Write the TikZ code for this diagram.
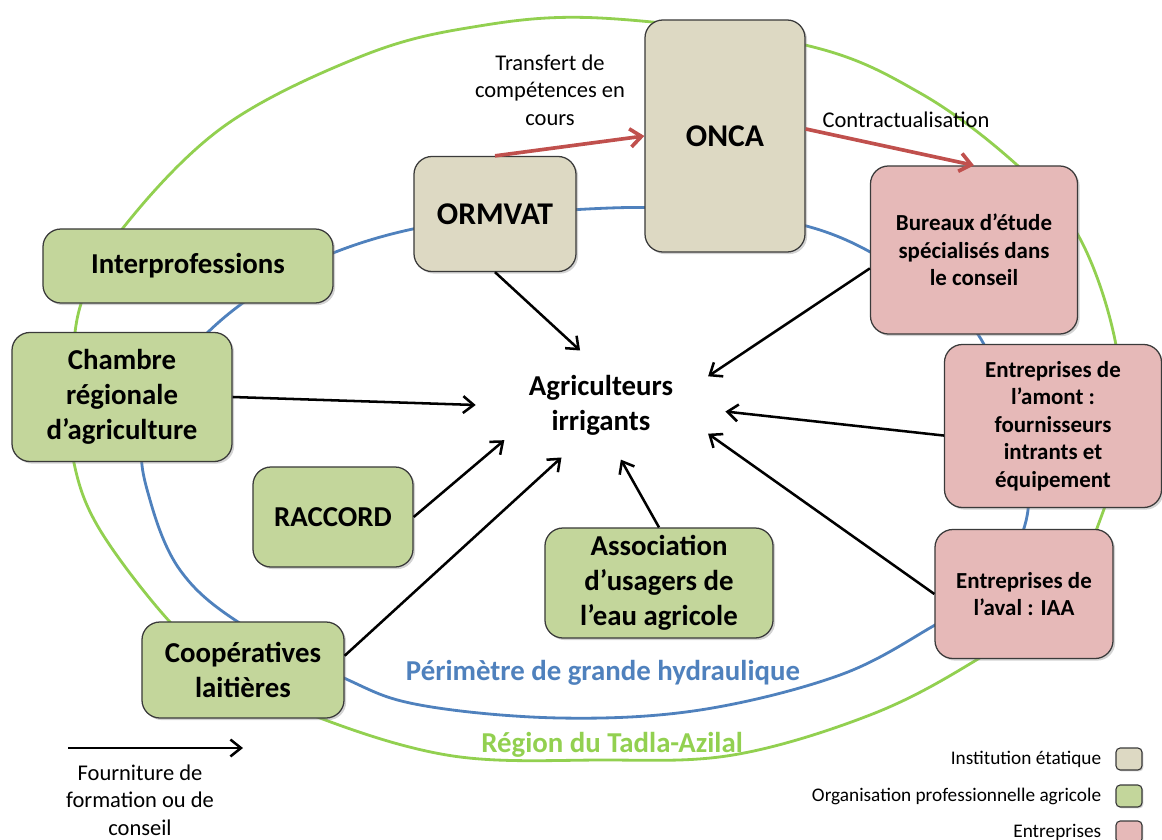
\documentclass[tikz,border=0pt]{standalone}
\usepackage{fontspec}
\setmainfont{Carlito}
\usepackage{tikz}
\usetikzlibrary{arrows.meta,positioning,shadows,shapes.geometric}
\definecolor{StateTan}{HTML}{DDD9C3}
\definecolor{ProGreen}{HTML}{C3D69B}
\definecolor{FirmPink}{HTML}{E6B9B8}
\definecolor{RingGreen}{HTML}{92D050}
\definecolor{RingBlue}{HTML}{4F81BD}
\definecolor{LinkRed}{HTML}{C0504D}
\definecolor{BoxEdge}{HTML}{3A3A3A}

\begin{document}
\begin{tikzpicture}[x=0.025cm,y=-0.025cm,
    actorbox/.style={draw=BoxEdge,line width=0.9pt,rounded corners=0.45cm,align=center,
      inner sep=2pt,font=\bfseries\fontsize{20.5}{25}\selectfont,
      drop shadow={shadow xshift=1.5pt,shadow yshift=-1.5pt,opacity=0.35}},
    statebox/.style={actorbox,fill=StateTan,font=\bfseries\fontsize{22.5}{27}\selectfont},
    probox/.style={actorbox,fill=ProGreen},
    firmbox/.style={actorbox,fill=FirmPink,font=\bfseries\fontsize{16.3}{19.6}\selectfont},
    hub/.style={ellipse,inner sep=0pt,minimum width=6.25cm,minimum height=2.75cm,align=center,
      font=\bfseries\fontsize{20.5}{25}\selectfont},
    feed/.style={-{Straight Barb[length=7.5pt,width=12pt]},line width=1.8pt,black},
    handover/.style={-{Straight Barb[length=8pt,width=13pt]},line width=2.6pt,LinkRed},
    ring/.style={line width=2pt},
    ringlabel/.style={font=\bfseries\fontsize{20.5}{25}\selectfont},
    labeltext/.style={align=center,font=\fontsize{16}{19.4}\selectfont},
    keybox/.style={draw=BoxEdge,line width=0.8pt,rounded corners=3pt,minimum width=0.65cm,
      minimum height=0.55cm,drop shadow={shadow xshift=1pt,shadow yshift=-1pt,opacity=0.35}},
    keytext/.style={inner sep=0pt,font=\fontsize{13.7}{16}\selectfont}]
  \useasboundingbox (0,0) rectangle (1162,840);

  % perimeter and region
  \draw[ring,RingGreen] plot[smooth cycle,tension=0.6] coordinates {
    (600,18) (805,45) (920,93) (1017,165) (1078,235) (1115,340) (1120,440)
    (1100,520) (1060,600) (973,662) (870,715) (733,755) (600,760) (453,756)
    (320,718) (230,672) (170,622) (100,530) (74,463) (72,400) (80,307)
    (123,228) (223,127) (357,58) (467,28)};
  \draw[ring,RingBlue] plot[smooth cycle,tension=0.6] coordinates {
    (610,208) (720,212) (820,230) (900,270) (975,330) (1010,420) (1028,510)
    (990,590) (935,625) (840,675) (700,710) (560,718) (420,705) (344,678)
    (238,622) (180,570) (150,500) (143,440) (175,370) (240,305) (333,253) (450,222)};

  % actors
  \node[statebox,minimum width=4cm,minimum height=5.8cm] (onca) at (725,136) {ONCA};
  \node[statebox,minimum width=4.05cm,minimum height=2.875cm] (ormvat) at (495,214) {ORMVAT};
  \node[firmbox,minimum width=5.175cm,minimum height=4.2cm] (bureaux) at (974,250)
    {Bureaux d’étude\\spécialisés dans\\le conseil};
  \node[firmbox,minimum width=5.425cm,minimum height=4.075cm] (amont) at (1053,426)
    {Entreprises de\\l’amont :\\fournisseurs\\intrants et\\équipement};
  \node[firmbox,minimum width=4.45cm,minimum height=3.225cm] (aval) at (1024,594)
    {Entreprises de\\l’aval : IAA};
  \node[probox,minimum width=7.25cm,minimum height=1.85cm] (interpro) at (188,266) {Interprofessions};
  \node[probox,minimum width=5.5cm,minimum height=3.225cm] (chambre) at (122,397)
    {Chambre\\régionale\\d’agriculture};
  \node[probox,minimum width=4cm,minimum height=2.5cm] (raccord) at (333,517) {RACCORD};
  \node[probox,minimum width=5.7cm,minimum height=2.75cm] (assoc) at (659,583)
    {Association\\d’usagers de\\l’eau agricole};
  \node[probox,minimum width=5.05cm,minimum height=2.4cm] (coop) at (243,670)
    {Coopératives\\laitières};
  \node[hub] (agri) at (601,405) {Agriculteurs\\irrigants};

  % advice flows
  \draw[feed] (ormvat.south) -- (agri.111);
  \draw[feed] (chambre.east) -- (agri.180);
  \draw[feed] (raccord.east) -- (agri.200);
  \draw[feed] (coop.8) -- (agri.233);
  \draw[feed] (assoc.north) -- (agri.290);
  \draw[feed] (bureaux.190) -- (agri.15);
  \draw[feed] (amont.185) -- (agri.357);
  \draw[feed] (aval.west) -- (agri.345);

  % state links
  \draw[handover] (ormvat.north) -- (onca.west);
  \draw[handover] (onca.5) -- (bureaux.north);
  \node[labeltext] (transfer) at (550,90) {Transfert de\\compétences en\\cours};
  \node[labeltext] (contract) at (906,120) {Contractualisation};

  \node[ringlabel,text=RingBlue] (perimeter) at (603,673) {Périmètre de grande hydraulique};
  \node[ringlabel,text=RingGreen] (region) at (612,745) {Région du Tadla-Azilal};

  % legend
  \coordinate (legA) at (68,748);
  \coordinate (legB) at (243,748);
  \draw[feed] (legA) -- (legB);
  \node[labeltext] (legtext) at (140,800) {Fourniture de\\formation ou de\\conseil};
  \node[keybox,fill=StateTan] (keystate) at (1129,759) {};
  \node[keybox,fill=ProGreen] (keypro) at (1129,796) {};
  \node[keybox,fill=FirmPink] (keyfirm) at (1129,832) {};
  \node[keytext,left=0.35cm of keystate] {Institution étatique};
  \node[keytext,left=0.35cm of keypro] {Organisation professionnelle agricole};
  \node[keytext,left=0.35cm of keyfirm] {Entreprises};
\end{tikzpicture}
\end{document}
